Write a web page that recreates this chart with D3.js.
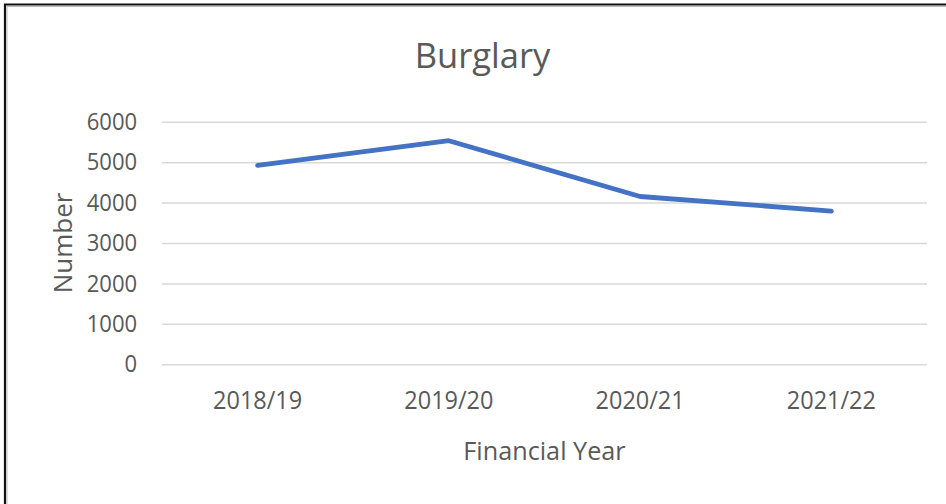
<!DOCTYPE html>
<html>
<head>
<meta charset="utf-8">
<script src="https://cdn.jsdelivr.net/npm/d3@7"></script>
<style>
  html, body { margin: 0; padding: 0; background: #fff; }
  svg { display: block; }
  text { font-family: "Open Sans", sans-serif; fill: #595959; }
</style>
</head>
<body>
<svg id="chart" width="946" height="504"></svg>
<script>
// Burglary counts by financial year
const years = ["2018/19", "2019/20", "2020/21", "2021/22"];
const burglaries = [4920, 5530, 4150, 3790];
const yTicks = [0, 1000, 2000, 3000, 4000, 5000, 6000];

const W = 946, H = 504;
const margin = { left: 162, right: 19, top: 121.7, bottom: 139.7 };
const plotW = W - margin.left - margin.right;
const plotH = H - margin.top - margin.bottom;

const svg = d3.select("#chart");

// chart frame (top and left edges)
svg.append("path")
  .attr("d", `M5,${H} V4.5 H${W}`)
  .attr("fill", "none")
  .attr("stroke", "#111")
  .attr("stroke-width", 2.2);
svg.append("path")
  .attr("d", `M7,${H} V6.5 H${W}`)
  .attr("fill", "none")
  .attr("stroke", "#bbb")
  .attr("stroke-width", 1);

const x = d3.scaleBand().domain(years).range([0, plotW]).padding(0);
const y = d3.scaleLinear().domain([0, 6000]).range([plotH, 0]);

const g = svg.append("g").attr("transform", `translate(${margin.left},${margin.top})`);

// value axis with gridlines
const yAxis = g.append("g")
  .call(d3.axisLeft(y).tickValues(yTicks).tickSize(-plotW).tickPadding(27).tickFormat(d3.format("d")));
yAxis.select(".domain").remove();
yAxis.selectAll(".tick line").attr("stroke", "#d9d9d9").attr("stroke-width", 1.5);
yAxis.selectAll(".tick text")
  .attr("font-size", 24)
  .attr("fill", "#595959")
  .attr("dy", "0.32em")
  .attr("transform", "scale(0.92,1)");

// category axis
const xAxis = g.append("g")
  .attr("transform", `translate(0,${plotH})`)
  .call(d3.axisBottom(x).tickSize(0));
xAxis.select(".domain").remove();
xAxis.selectAll(".tick text")
  .attr("font-size", 25)
  .attr("fill", "#595959")
  .attr("y", 45)
  .attr("dy", 0)
  .attr("transform", "scale(0.94,1)");

// series line
const line = d3.line()
  .x((d, i) => x(years[i]) + x.bandwidth() / 2)
  .y(d => y(d));
g.append("path")
  .datum(burglaries)
  .attr("d", line)
  .attr("fill", "none")
  .attr("stroke", "#4472C4")
  .attr("stroke-width", 4.8)
  .attr("stroke-linejoin", "round")
  .attr("stroke-linecap", "round");

// title
svg.append("text")
  .attr("x", 482.5)
  .attr("y", 67.5)
  .attr("text-anchor", "middle")
  .attr("font-size", 34.5)
  .text("Burglary");

// axis titles
svg.append("text")
  .attr("x", margin.left + plotW / 2)
  .attr("y", 460)
  .attr("text-anchor", "middle")
  .attr("font-size", 26)
  .attr("transform", `translate(${margin.left + plotW / 2},0) scale(0.97,1) translate(${-(margin.left + plotW / 2)},0)`)
  .text("Financial Year");

svg.append("text")
  .attr("transform", `translate(71.5,${margin.top + plotH / 2}) rotate(-90)`)
  .attr("text-anchor", "middle")
  .attr("font-size", 26)
  .text("Number");
</script>
</body>
</html>
